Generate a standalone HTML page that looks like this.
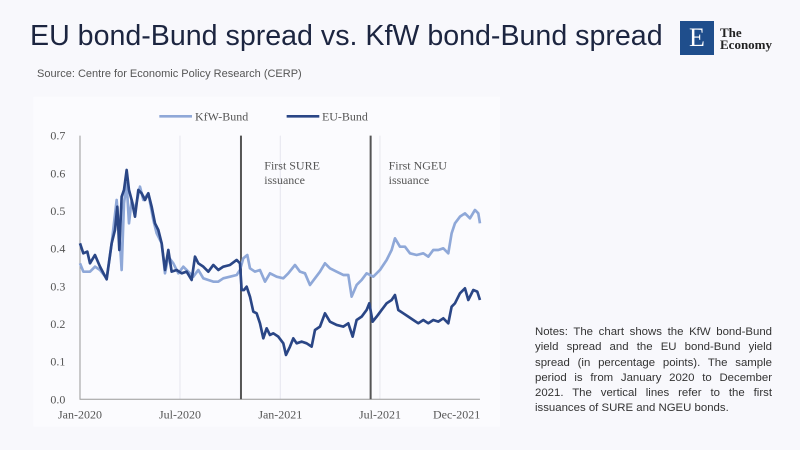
<!DOCTYPE html>
<html><head><meta charset="utf-8"><style>
body{margin:0;width:800px;height:450px;background:#f8f8fc;position:relative;overflow:hidden;font-family:"Liberation Sans",sans-serif}
.t{position:absolute;left:30px;top:20px;font-size:28.6px;color:#1c2540}
.s{position:absolute;left:37px;top:68px;font-size:11px;color:#555}
.n{position:absolute;left:535px;top:325px;width:237px;font-size:11.4px;line-height:15.3px;color:#333;text-align:justify}
</style></head><body>
<div class="t">EU bond-Bund spread vs. KfW bond-Bund spread</div>
<div class="s">Source: Centre for Economic Policy Research (CERP)</div>
<div style="position:absolute;left:680px;top:21px;width:34px;height:34px;background:#1f4e8c;color:#fff;font-family:'Liberation Serif',serif;font-size:26px;text-align:center;line-height:34px">E</div>
<div style="position:absolute;left:720px;top:27px;font-family:'Liberation Serif',serif;font-size:13px;line-height:11.5px;color:#222;font-weight:bold">The<br>Economy</div>
<svg style="position:absolute;left:0;top:0" width="800" height="450">
<g transform="translate(0,90) scale(0.3333)" font-family="Liberation Serif,serif" fill="#555">
<rect x="100" y="20" width="1400" height="990" fill="#fbfbfe"/>
<g stroke="#e6e6ee" stroke-width="3"><line x1="540" y1="137" x2="540" y2="928"/><line x1="841" y1="137" x2="841" y2="928"/><line x1="1140" y1="137" x2="1140" y2="928"/></g>
<g stroke="#999" stroke-width="3" fill="none"><polyline points="240,137 240,928 1440,928"/></g>
<g font-size="36" text-anchor="end"><text x="196" y="149">0.7</text><text x="196" y="262">0.6</text><text x="196" y="375">0.5</text><text x="196" y="488">0.4</text><text x="196" y="601">0.3</text><text x="196" y="714">0.2</text><text x="196" y="827">0.1</text><text x="196" y="940">0.0</text></g>
<g font-size="36" text-anchor="middle"><text x="240" y="985">Jan-2020</text><text x="540" y="985">Jul-2020</text><text x="841" y="985">Jan-2021</text><text x="1140" y="985">Jul-2021</text><text x="1370" y="985">Dec-2021</text></g>
<line x1="478" y1="79" x2="576" y2="79" stroke="#8fa8d8" stroke-width="8"/><text x="585" y="91" font-size="36">KfW-Bund</text>
<line x1="860" y1="79" x2="958" y2="79" stroke="#2a4686" stroke-width="8"/><text x="966" y="91" font-size="36">EU-Bund</text>
<g stroke="#555" stroke-width="6"><line x1="723" y1="137" x2="723" y2="928"/><line x1="1112" y1="137" x2="1112" y2="928"/></g>
<g font-size="36"><text x="793" y="238">First SURE</text><text x="793" y="282">issuance</text><text x="1166" y="238">First NGEU</text><text x="1166" y="282">issuance</text></g>
<polyline fill="none" stroke="#8fa8d8" stroke-width="8" stroke-linejoin="round" points="240,520 250,545 270,545 285,530 300,540 320,565 335,460 350,330 358,430 365,540 372,340 380,280 387,400 395,330 405,360 420,290 430,330 445,310 460,390 470,430 485,460 495,550 505,500 520,520 535,550 550,530 565,545 580,560 595,540 610,565 625,570 640,575 655,575 670,565 690,560 710,555 720,540 730,505 742,495 750,535 765,545 780,540 795,575 810,550 830,560 850,565 865,550 885,525 900,545 915,550 930,585 945,565 960,545 975,520 990,535 1010,545 1030,555 1045,555 1055,620 1070,585 1085,570 1100,550 1110,555 1120,560 1140,540 1160,510 1175,480 1185,445 1200,470 1215,470 1230,490 1250,495 1270,490 1285,500 1300,480 1315,480 1330,475 1345,490 1355,430 1365,400 1380,380 1395,370 1410,385 1425,360 1435,370 1440,400"/>
<polyline fill="none" stroke="#2a4686" stroke-width="8" stroke-linejoin="round" points="240,460 250,490 262,485 270,520 285,495 300,530 320,568 335,460 345,420 352,350 358,480 365,320 372,300 380,240 387,300 395,330 405,380 415,300 425,310 435,330 445,310 455,350 465,400 475,420 485,460 495,540 505,480 515,545 530,540 545,550 560,545 575,570 585,500 595,520 610,530 625,545 640,525 655,540 670,530 690,525 710,510 720,520 725,600 732,600 740,590 750,620 760,665 770,670 780,700 790,745 800,715 810,735 820,730 835,740 850,760 858,795 870,770 880,745 890,760 905,755 920,760 935,770 945,720 960,710 975,670 990,695 1010,705 1030,710 1045,700 1058,740 1070,690 1085,680 1100,660 1108,640 1118,695 1130,680 1145,660 1160,640 1175,630 1185,615 1195,660 1210,670 1225,680 1240,690 1255,700 1270,690 1285,700 1300,690 1315,695 1330,685 1345,700 1355,650 1365,640 1380,610 1395,595 1405,630 1420,600 1432,605 1440,630"/>
</g></svg>
<div class="n">Notes: The chart shows the KfW bond-Bund yield spread and the EU bond-Bund yield spread (in percentage points). The sample period is from January 2020 to December 2021. The vertical lines refer to the first issuances of SURE and NGEU bonds.</div>
</body></html>
